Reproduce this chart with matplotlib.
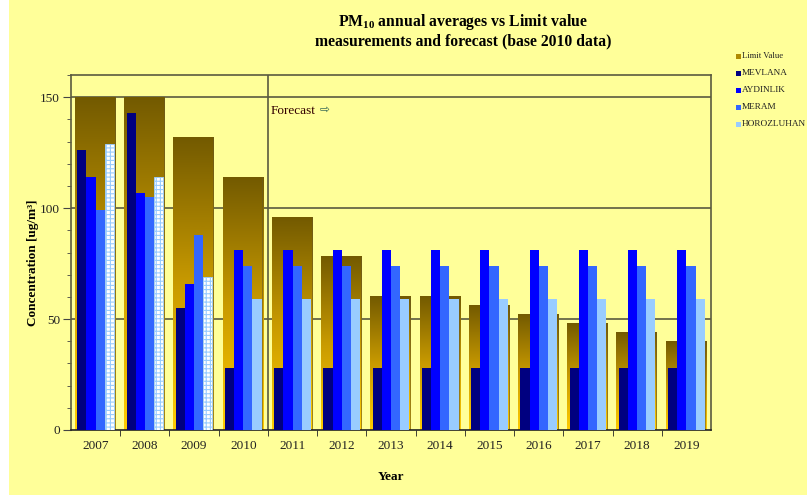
import numpy as np
import matplotlib
matplotlib.use("Agg")
import matplotlib.pyplot as plt
from matplotlib.patches import Rectangle
from matplotlib.colors import LinearSegmentedColormap

years = ["2007", "2008", "2009", "2010", "2011", "2012", "2013", "2014",
         "2015", "2016", "2017", "2018", "2019"]
limit_value = [150, 150, 132, 114, 96, 78, 60, 60, 56, 52, 48, 44, 40]
mevlana = [126, 143, 55, 28, 28, 28, 28, 28, 28, 28, 28, 28, 28]
aydinlik = [114, 107, 66, 81, 81, 81, 81, 81, 81, 81, 81, 81, 81]
meram = [99, 105, 88, 74, 74, 74, 74, 74, 74, 74, 74, 74, 74]
horozluhan = [129, 114, 69, 59, 59, 59, 59, 59, 59, 59, 59, 59, 59]
hatched_years = ["2007", "2008", "2009"]

series_names = ["MEVLANA", "AYDINLIK", "MERAM", "HOROZLUHAN"]
series_vals = [mevlana, aydinlik, meram, horozluhan]
series_cols = ["#000080", "#0000FF", "#3366FF", "#99CCFF"]

BG = "#FFFF99"
SERIF = ["Liberation Serif", "DejaVu Serif"]
plt.rcParams["font.family"] = SERIF
plt.rcParams["hatch.linewidth"] = 0.8
plt.rcParams["mathtext.fontset"] = "custom"
plt.rcParams["mathtext.rm"] = "Liberation Serif"
plt.rcParams["mathtext.bf"] = "Liberation Serif:bold"
plt.rcParams["mathtext.it"] = "Liberation Serif:italic"

fig = plt.figure(figsize=(8.07, 4.95), dpi=100, facecolor=BG)
fig.patches.append(Rectangle((0, 0), 9 / 807, 1, transform=fig.transFigure,
                             facecolor="white", edgecolor="none", zorder=0))

ax = fig.add_axes([71 / 807, 1 - 430 / 495, 640 / 807, 355 / 495])
ax.set_facecolor(BG)
n = len(years)
x = np.arange(n)

for g in [50, 100, 150]:
    ax.axhline(g, color="#5A5A40", lw=1.2, zorder=1)
ax.axvline(3.5, color="#5A5A40", lw=1.2, zorder=1)

cmap = LinearSegmentedColormap.from_list("lim", ["#FFCC00", "#C89A00", "#735A00"])
grad = np.linspace(0, 1, 256).reshape(-1, 1)
lw_bar = 0.82
for i, v in enumerate(limit_value):
    x0, x1 = x[i] - lw_bar / 2 - 0.01, x[i] + lw_bar / 2 - 0.01
    ax.imshow(grad, cmap=cmap, origin="lower", aspect="auto",
              extent=(x0, x1, 0, v), zorder=2, interpolation="bilinear")
    ax.add_patch(Rectangle((x1 - 0.012, 0), 0.02, v, facecolor="#6B5A20",
                           edgecolor="none", zorder=2.1, alpha=0.6))

w = 0.186
for k, (vals, col) in enumerate(zip(series_vals, series_cols)):
    pos = x + (k - 1.5) * w
    for i, v in enumerate(vals):
        if k == 3 and years[i] in hatched_years:
            ax.bar(pos[i], v, width=w, facecolor="white", edgecolor=col,
                   hatch="++++", linewidth=0.6, zorder=3)
        else:
            ax.bar(pos[i], v, width=w, color=col, linewidth=0, zorder=3)

ax.set_xlim(-0.5, n - 0.5)
ax.set_ylim(0, 160)

for s in ["left", "right", "top"]:
    ax.spines[s].set_color("#5A5A40")
    ax.spines[s].set_linewidth(1.2)
ax.spines["bottom"].set_color("#222222")
ax.spines["bottom"].set_linewidth(1.2)

ax.set_yticks([0, 50, 100, 150])
ax.set_yticks(np.arange(0, 161, 10), minor=True)
ax.tick_params(axis="y", which="major", direction="out", length=6,
               color="#444444", labelsize=9.5, labelcolor="#222222", pad=2)
ax.tick_params(axis="y", which="minor", direction="out", length=3, color="#444444")

ax.set_xticks(x)
ax.set_xticklabels(years)
ax.set_xticks(np.arange(0.5, n - 0.5, 1), minor=True)
ax.tick_params(axis="x", which="major", length=0, labelsize=9.5,
               labelcolor="#222222", pad=7)
ax.tick_params(axis="x", which="minor", direction="out", length=4, color="#222222")

ax.set_ylabel("Concentration [ug/m\u00b3]", fontsize=9.5, fontweight="bold")
ax.yaxis.set_label_coords(-0.072 + 14 / 640, 0.47)
ax.set_xlabel("Year", fontsize=9.5, fontweight="bold", labelpad=14)

ax.text(3.56, 144, "Forecast", fontsize=9.5, color="#330000",
        va="center", ha="left", zorder=4)
ax.text(4.54, 144.6, "\u21e8", fontsize=8.5, color="#336655",
        family=["DejaVu Sans"], va="center", ha="left", zorder=4)

fig.text(463 / 807, 1 - 22 / 495, r"PM$_{\mathbf{10}}$ annual averages vs Limit value",
         ha="center", va="center", fontsize=11.3, fontweight="bold")
fig.text(463 / 807, 1 - 41 / 495, "measurements and forecast (base 2010 data)",
         ha="center", va="center", fontsize=11.3, fontweight="bold")

leg_labels = ["Limit Value"] + series_names
leg_cols = ["#B08A00"] + series_cols
leg_y = [56, 73, 90, 107, 124]
for lab, col, yy in zip(leg_labels, leg_cols, leg_y):
    fig.patches.append(Rectangle((736 / 807, 1 - (yy + 2.5) / 495), 5 / 807, 5 / 495,
                                 transform=fig.transFigure, facecolor=col,
                                 edgecolor="none"))
    fig.text(741.5 / 807, 1 - yy / 495, lab,
             fontsize=6.2 if lab == "Limit Value" else 6.7,
             ha="left", va="center", color="#222222")

fig.savefig("out.png", dpi=100, facecolor=BG)
